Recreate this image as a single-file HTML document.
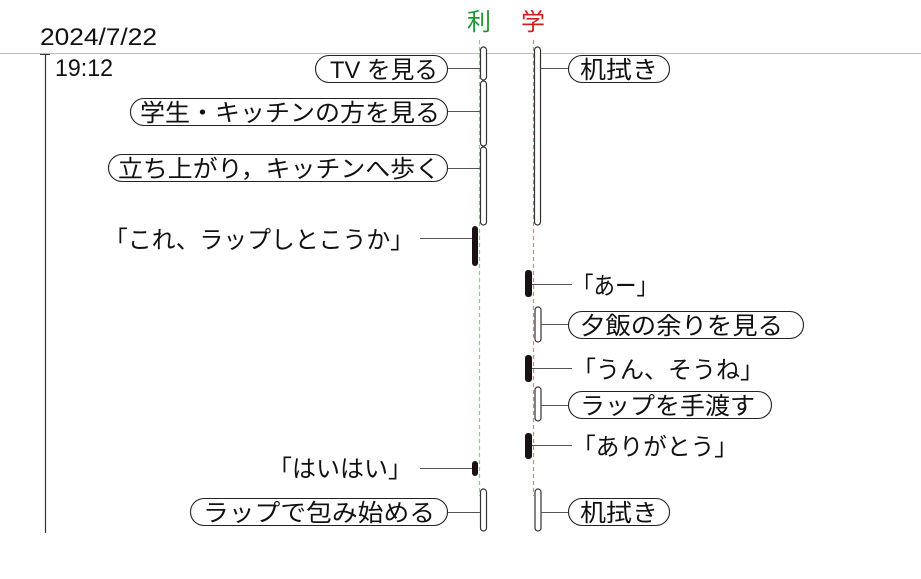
<!DOCTYPE html>
<html><head><meta charset="utf-8"><style>
html,body{margin:0;padding:0;background:#fff;}
svg{display:block;}
text{font-family:"Liberation Sans","Noto Sans CJK JP",sans-serif;font-size:24px;fill:#111;}
</style></head><body>
<svg width="921" height="579" viewBox="0 0 921 579" xmlns="http://www.w3.org/2000/svg">
<line x1="0" y1="53.5" x2="921" y2="53.5" stroke="#bbb" stroke-width="1"/>
<text x="40" y="45" font-size="25" textLength="117" lengthAdjust="spacingAndGlyphs">2024/7/22</text>
<line x1="45.5" y1="54" x2="45.5" y2="533" stroke="#333" stroke-width="1.2"/>
<line x1="40" y1="54.5" x2="50" y2="54.5" stroke="#333" stroke-width="1"/>
<text x="55" y="76" font-size="24" textLength="58" lengthAdjust="spacingAndGlyphs">19:12</text>

<text x="479" y="30" text-anchor="middle" style="fill:#1a9a2a" font-size="23">利</text>
<text x="533" y="30" text-anchor="middle" style="fill:#d0201a" font-size="23">学</text>
<line x1="479.5" y1="40" x2="479.5" y2="496" stroke="#8c8" stroke-width="1.2" stroke-dasharray="4,3"/>
<line x1="533.5" y1="40" x2="533.5" y2="496" stroke="#e84" stroke-width="1.2" stroke-dasharray="4,3"/>

<g fill="#fff" stroke="#333" stroke-width="1.2">
<rect x="480.5" y="47" width="6" height="33" rx="3"/>
<rect x="480.5" y="81" width="6" height="65" rx="3"/>
<rect x="480.5" y="147" width="6" height="78" rx="3"/>
<rect x="534.5" y="47" width="6" height="178" rx="3"/>
<rect x="535" y="307" width="6" height="35" rx="3"/>
<rect x="535" y="387" width="6" height="34" rx="3"/>
<rect x="480.5" y="489" width="6" height="42" rx="3"/>
<rect x="535" y="489" width="6" height="42" rx="3"/>
</g>
<g fill="#1a1212">
<rect x="472" y="226" width="6" height="40" rx="3"/>
<rect x="525" y="270" width="7" height="27" rx="3"/>
<rect x="525" y="355" width="7" height="27" rx="3"/>
<rect x="525" y="433" width="7" height="26" rx="3"/>
<rect x="472" y="461" width="6" height="15" rx="3"/>
</g>

<g stroke="#555" stroke-width="1">
<line x1="447" y1="68.5" x2="480" y2="68.5"/>
<line x1="447" y1="111.5" x2="480" y2="111.5"/>
<line x1="447" y1="168.5" x2="480" y2="168.5"/>
<line x1="541" y1="68.5" x2="568" y2="68.5"/>
<line x1="420" y1="238.5" x2="472" y2="238.5"/>
<line x1="532" y1="284.5" x2="572" y2="284.5"/>
<line x1="541" y1="324.5" x2="568" y2="324.5"/>
<line x1="532" y1="368.5" x2="572" y2="368.5"/>
<line x1="541" y1="405.5" x2="568" y2="405.5"/>
<line x1="532" y1="445.5" x2="572" y2="445.5"/>
<line x1="420" y1="468.5" x2="472" y2="468.5"/>
<line x1="447" y1="512.5" x2="480" y2="512.5"/>
<line x1="541" y1="512.5" x2="568" y2="512.5"/>
</g>

<g fill="#fff" stroke="#222" stroke-width="1.1">
<rect x="315.5" y="55.5" width="132" height="27" rx="13.5"/>
<rect x="130.5" y="98.5" width="317" height="27" rx="13.5"/>
<rect x="108.5" y="154.5" width="339" height="27" rx="13.5"/>
<rect x="568.5" y="55.5" width="101" height="27" rx="13.5"/>
<rect x="568.5" y="311.5" width="235" height="27" rx="13.5"/>
<rect x="568.5" y="391.5" width="203" height="27" rx="13.5"/>
<rect x="190.5" y="498.5" width="257" height="27" rx="13.5"/>
<rect x="568.5" y="498.5" width="101" height="27" rx="13.5"/>
</g>

<text x="330" y="78" textLength="108" lengthAdjust="spacingAndGlyphs">TV を見る</text>
<text x="140" y="121" textLength="300" lengthAdjust="spacingAndGlyphs">学生・キッチンの方を見る</text>
<text x="118" y="177" textLength="322" lengthAdjust="spacingAndGlyphs">立ち上がり，キッチンへ歩く</text>
<text x="580" y="78" textLength="78" lengthAdjust="spacingAndGlyphs">机拭き</text>
<text x="580" y="334" textLength="203" lengthAdjust="spacingAndGlyphs">夕飯の余りを見る</text>
<text x="580" y="414" textLength="175" lengthAdjust="spacingAndGlyphs">ラップを手渡す</text>
<text x="203" y="521" textLength="232" lengthAdjust="spacingAndGlyphs">ラップで包み始める</text>
<text x="580" y="521" textLength="78" lengthAdjust="spacingAndGlyphs">机拭き</text>

<text x="104" y="248" textLength="310" lengthAdjust="spacingAndGlyphs">「これ、ラップしとこうか」</text>
<text x="572" y="294" textLength="86" lengthAdjust="spacingAndGlyphs">「あー」</text>
<text x="572" y="378" textLength="192" lengthAdjust="spacingAndGlyphs">「うん、そうね」</text>
<text x="572" y="455" textLength="166" lengthAdjust="spacingAndGlyphs">「ありがとう」</text>
<text x="268" y="477" textLength="144" lengthAdjust="spacingAndGlyphs">「はいはい」</text>
</svg>
</body></html>
